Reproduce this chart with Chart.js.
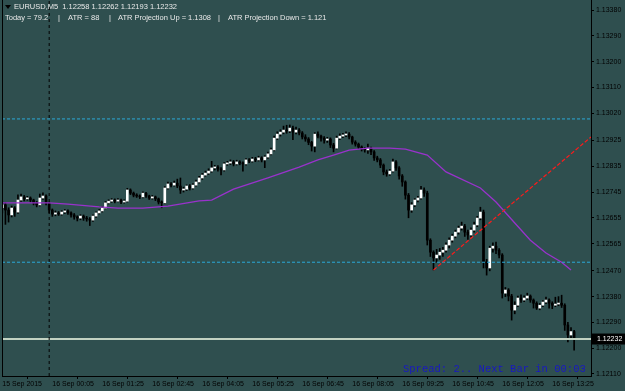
<!DOCTYPE html>
<html>
<head>
<meta charset="utf-8">
<script src="https://cdn.jsdelivr.net/npm/chart.js@4.4.0/dist/chart.umd.min.js"></script>
<style>
    html, body { margin: 0; padding: 0; background: #2f4f4f; }
    #grafico { display: block; background: #2f4f4f; }
</style>
</head>
<body>
<canvas id="grafico" width="625" height="391"></canvas>
<script>
// Velas M5 EURUSD (una por barra, de izquierda a derecha)
const aperturas = [1.12690,1.12700,1.12682,1.12665,1.12689,1.12675,1.12717,1.12728,1.12721,1.12724,
    1.12717,1.12707,1.12700,1.12724,1.12731,1.12707,1.12682,1.12668,1.12672,1.12668,
    1.12675,1.12679,1.12672,1.12665,1.12658,1.12654,1.12661,1.12654,1.12651,1.12647,
    1.12661,1.12672,1.12679,1.12689,1.12707,1.12713,1.12717,1.12713,1.12717,1.12710,
    1.12713,1.12752,1.12741,1.12734,1.12731,1.12728,1.12741,1.12731,1.12724,1.12728,
    1.12721,1.12710,1.12707,1.12759,1.12773,1.12769,1.12776,1.12766,1.12752,1.12755,
    1.12766,1.12759,1.12769,1.12780,1.12794,1.12804,1.12811,1.12818,1.12829,1.12832,
    1.12825,1.12822,1.12843,1.12846,1.12850,1.12843,1.12850,1.12846,1.12843,1.12857,
    1.12853,1.12860,1.12857,1.12864,1.12857,1.12867,1.12878,1.12892,1.12933,1.12947,
    1.12954,1.12961,1.12958,1.12968,1.12954,1.12961,1.12951,1.12937,1.12930,1.12918,
    1.12905,1.12947,1.12940,1.12933,1.12926,1.12930,1.12909,1.12898,1.12933,1.12940,
    1.12944,1.12947,1.12937,1.12919,1.12912,1.12902,1.12895,1.12892,1.12898,1.12885,
    1.12864,1.12857,1.12839,1.12815,1.12808,1.12818,1.12850,1.12829,1.12801,1.12780,
    1.12734,1.12682,1.12700,1.12717,1.12724,1.12752,1.12741,1.12577,1.12535,1.12515,
    1.12525,1.12535,1.12542,1.12560,1.12577,1.12591,1.12605,1.12619,1.12626,1.12605,
    1.12595,1.12612,1.12630,1.12654,1.12675,1.12501,1.12480,1.12549,1.12556,1.12542,
    1.12525,1.12392,1.12403,1.12382,1.12333,1.12350,1.12375,1.12368,1.12375,1.12382,
    1.12368,1.12357,1.12340,1.12350,1.12361,1.12368,1.12357,1.12350,1.12354,1.12357,
    1.12350,1.12281,1.12246,1.12258];
const maximos = [1.12712,1.12708,1.12690,1.12696,1.12694,1.12735,1.12738,1.12733,1.12730,1.12728,
    1.12720,1.12712,1.12738,1.12742,1.12735,1.12710,1.12686,1.12679,1.12677,1.12680,
    1.12684,1.12683,1.12676,1.12670,1.12662,1.12666,1.12665,1.12660,1.12656,1.12665,
    1.12676,1.12684,1.12694,1.12712,1.12718,1.12722,1.12721,1.12722,1.12720,1.12718,
    1.12758,1.12756,1.12745,1.12739,1.12735,1.12746,1.12744,1.12734,1.12733,1.12731,
    1.12724,1.12714,1.12764,1.12780,1.12778,1.12783,1.12790,1.12794,1.12762,1.12770,
    1.12771,1.12774,1.12787,1.12800,1.12810,1.12818,1.12826,1.12852,1.12838,1.12837,
    1.12830,1.12848,1.12852,1.12857,1.12855,1.12856,1.12854,1.12850,1.12862,1.12862,
    1.12866,1.12866,1.12870,1.12868,1.12872,1.12884,1.12898,1.12940,1.12955,1.12962,
    1.12975,1.12978,1.12979,1.12975,1.12972,1.12966,1.12956,1.12945,1.12935,1.12922,
    1.12952,1.12955,1.12944,1.12938,1.12936,1.12934,1.12915,1.12940,1.12948,1.12950,
    1.12955,1.12952,1.12940,1.12924,1.12916,1.12906,1.12900,1.12912,1.12902,1.12890,
    1.12870,1.12862,1.12843,1.12822,1.12824,1.12860,1.12855,1.12834,1.12806,1.12784,
    1.12740,1.12708,1.12722,1.12730,1.12765,1.12760,1.12748,1.12582,1.12540,1.12545,
    1.12548,1.12552,1.12568,1.12585,1.12598,1.12612,1.12626,1.12640,1.12632,1.12612,
    1.12620,1.12640,1.12660,1.12692,1.12682,1.12510,1.12556,1.12568,1.12570,1.12548,
    1.12530,1.12412,1.12408,1.12388,1.12362,1.12382,1.12386,1.12383,1.12392,1.12386,
    1.12372,1.12362,1.12356,1.12366,1.12378,1.12372,1.12362,1.12378,1.12380,1.12385,
    1.12355,1.12290,1.12272,1.12262];
const minimos = [1.12672,1.12632,1.12640,1.12658,1.12660,1.12670,1.12712,1.12714,1.12716,1.12710,
    1.12700,1.12693,1.12696,1.12719,1.12700,1.12672,1.12660,1.12662,1.12663,1.12664,
    1.12670,1.12667,1.12657,1.12650,1.12644,1.12648,1.12646,1.12643,1.12628,1.12642,
    1.12656,1.12668,1.12675,1.12686,1.12703,1.12709,1.12707,1.12710,1.12704,1.12706,
    1.12710,1.12736,1.12728,1.12726,1.12722,1.12724,1.12726,1.12719,1.12720,1.12715,
    1.12703,1.12690,1.12704,1.12755,1.12763,1.12765,1.12760,1.12740,1.12745,1.12750,
    1.12752,1.12755,1.12765,1.12776,1.12789,1.12800,1.12806,1.12814,1.12822,1.12818,
    1.12805,1.12818,1.12838,1.12841,1.12836,1.12839,1.12840,1.12818,1.12839,1.12847,
    1.12849,1.12851,1.12853,1.12850,1.12830,1.12862,1.12874,1.12888,1.12928,1.12940,
    1.12948,1.12950,1.12952,1.12928,1.12948,1.12944,1.12930,1.12922,1.12910,1.12888,
    1.12885,1.12934,1.12922,1.12915,1.12918,1.12900,1.12885,1.12895,1.12928,1.12935,
    1.12938,1.12930,1.12912,1.12905,1.12896,1.12888,1.12884,1.12880,1.12875,1.12855,
    1.12850,1.12830,1.12805,1.12800,1.12803,1.12814,1.12820,1.12790,1.12765,1.12720,
    1.12655,1.12674,1.12694,1.12710,1.12720,1.12730,1.12560,1.12520,1.12473,1.12500,
    1.12510,1.12520,1.12535,1.12550,1.12570,1.12585,1.12598,1.12612,1.12590,1.12580,
    1.12588,1.12605,1.12624,1.12648,1.12480,1.12455,1.12470,1.12535,1.12530,1.12515,
    1.12375,1.12380,1.12365,1.12298,1.12320,1.12345,1.12360,1.12362,1.12370,1.12360,
    1.12340,1.12335,1.12334,1.12345,1.12355,1.12340,1.12338,1.12345,1.12348,1.12342,
    1.12262,1.12222,1.12230,1.12193];
const cierres = [1.12700,1.12682,1.12665,1.12689,1.12675,1.12717,1.12728,1.12721,1.12724,1.12717,
    1.12707,1.12700,1.12724,1.12731,1.12707,1.12682,1.12668,1.12672,1.12668,1.12675,
    1.12679,1.12672,1.12665,1.12658,1.12654,1.12661,1.12654,1.12651,1.12647,1.12661,
    1.12672,1.12679,1.12689,1.12707,1.12713,1.12717,1.12713,1.12717,1.12710,1.12713,
    1.12752,1.12741,1.12734,1.12731,1.12728,1.12741,1.12731,1.12724,1.12728,1.12721,
    1.12710,1.12707,1.12759,1.12773,1.12769,1.12776,1.12766,1.12752,1.12755,1.12766,
    1.12759,1.12769,1.12780,1.12794,1.12804,1.12811,1.12818,1.12829,1.12832,1.12825,
    1.12822,1.12843,1.12846,1.12850,1.12843,1.12850,1.12846,1.12843,1.12857,1.12853,
    1.12860,1.12857,1.12864,1.12857,1.12867,1.12878,1.12892,1.12933,1.12947,1.12954,
    1.12961,1.12958,1.12968,1.12954,1.12961,1.12951,1.12937,1.12930,1.12918,1.12905,
    1.12947,1.12940,1.12933,1.12926,1.12930,1.12909,1.12898,1.12933,1.12940,1.12944,
    1.12947,1.12937,1.12919,1.12912,1.12902,1.12895,1.12892,1.12898,1.12885,1.12864,
    1.12857,1.12839,1.12815,1.12808,1.12818,1.12850,1.12829,1.12801,1.12780,1.12734,
    1.12682,1.12700,1.12717,1.12724,1.12752,1.12741,1.12577,1.12535,1.12515,1.12525,
    1.12535,1.12542,1.12560,1.12577,1.12591,1.12605,1.12619,1.12626,1.12605,1.12595,
    1.12612,1.12630,1.12654,1.12675,1.12501,1.12480,1.12549,1.12556,1.12542,1.12525,
    1.12392,1.12403,1.12382,1.12333,1.12350,1.12375,1.12368,1.12375,1.12382,1.12368,
    1.12357,1.12340,1.12350,1.12361,1.12368,1.12357,1.12350,1.12354,1.12357,1.12350,
    1.12281,1.12246,1.12258,1.12232];

// Media movil (barra, valor)
const mediaBarras = [0, 15, 21, 31, 37, 45, 53, 63, 67, 74, 85, 95, 101, 106, 111, 117, 124, 129, 136, 142, 153, 158, 164, 169, 174, 179, 182];
const mediaValores = [1.12707, 1.12707, 1.12703, 1.12693, 1.12689, 1.12689, 1.12696, 1.12714, 1.12717, 1.12755, 1.12794, 1.12832, 1.12857, 1.12874, 1.12891, 1.12898, 1.12898, 1.12895, 1.12874, 1.12815, 1.12759, 1.12710, 1.12637, 1.12577, 1.12532, 1.12500, 1.12473];

// Niveles y linea de tendencia
const nivelesATR = [1.13000, 1.12500];
const tendenciaBarras = [138, 188.4];
const tendenciaValores = [1.12473, 1.12937];
const separadorDia = 15;

// Ejes
const etiquetasTiempo = ['15 Sep 2015', '16 Sep 00:05', '16 Sep 01:25', '16 Sep 02:45', '16 Sep 04:05', '16 Sep 05:25',
    '16 Sep 06:45', '16 Sep 08:05', '16 Sep 09:25', '16 Sep 10:45', '16 Sep 12:05', '16 Sep 13:25'];
const barrasTiempo = [0, 16, 32, 48, 64, 80, 96, 112, 128, 144, 160, 176];
const preciosEje = [1.13380, 1.13290, 1.13200, 1.13110, 1.13020, 1.12925, 1.12835, 1.12745, 1.12655, 1.12565,
    1.12470, 1.12380, 1.12290, 1.12200, 1.12110];

const X_MIN = -0.1, X_MAX = 188.4;
const Y_MIN = 1.12103, Y_MAX = 1.13415;

function generarGrafico() {
    const indices = cierres.map((c, i) => i);
    const ultimo = cierres[cierres.length - 1];

    const mechas = indices.map(i => ({ x: i, y: [minimos[i], maximos[i]] }));
    const cuerpos = indices.map(i => ({ x: i, y: [aperturas[i], cierres[i]] }));
    const coloresCuerpo = indices.map(i => cierres[i] >= aperturas[i] ? '#ffffff' : '#000000');

    const lineaHorizontal = (valor) => [{ x: X_MIN, y: valor }, { x: X_MAX, y: valor }];

    const datasets = [
        { type: 'bar', data: mechas, backgroundColor: '#000000', barThickness: 1, grouped: false, order: 5 },
        { type: 'bar', data: cuerpos, backgroundColor: coloresCuerpo, borderWidth: 0,
          barThickness: 2, minBarLength: 1, grouped: false, order: 4 },
        { type: 'line', data: mediaBarras.map((b, i) => ({ x: b, y: mediaValores[i] })),
          borderColor: '#9932cc', borderWidth: 1.3, pointRadius: 0, order: 3 },
        { type: 'line', data: lineaHorizontal(nivelesATR[0]), borderColor: '#2aa8d8', borderWidth: 1,
          borderDash: [3, 2], pointRadius: 0, order: 2 },
        { type: 'line', data: lineaHorizontal(nivelesATR[1]), borderColor: '#2aa8d8', borderWidth: 1,
          borderDash: [3, 2], pointRadius: 0, order: 2 },
        { type: 'line', data: lineaHorizontal(ultimo), borderColor: '#c2d2c2', borderWidth: 2, pointRadius: 0, order: 2 },
        { type: 'line', data: tendenciaBarras.map((b, i) => ({ x: b, y: tendenciaValores[i] })),
          borderColor: '#ff1a1a', borderWidth: 1.2, borderDash: [4, 2], pointRadius: 0, order: 1 },
        { type: 'line', data: [{ x: separadorDia, y: Y_MIN }, { x: separadorDia, y: Y_MAX }],
          borderColor: '#000000', borderWidth: 1, borderDash: [3, 3], pointRadius: 0, order: 1 }
    ];

    // textos del terminal encima del grafico
    const textos = {
        id: 'textos',
        afterDraw(chart) {
            const ctx = chart.ctx;
            const area = chart.chartArea;
            const escalaY = chart.scales.y;
            ctx.save();

            // borde izquierdo
            ctx.strokeStyle = '#000000';
            ctx.lineWidth = 1;
            ctx.beginPath();
            ctx.moveTo(area.left + 0.5, area.top);
            ctx.lineTo(area.left + 0.5, area.bottom);
            ctx.stroke();

            ctx.fillStyle = '#000000';
            ctx.beginPath();
            ctx.moveTo(5, 5); ctx.lineTo(11, 5); ctx.lineTo(8, 9);
            ctx.fill();

            ctx.font = '7.5px "Liberation Sans"';
            ctx.textBaseline = 'middle';
            ctx.fillStyle = '#e8e8e8';
            ctx.fillText('EURUSD,M5  ' + [aperturas, maximos, minimos, cierres].map(a => a[a.length - 1].toFixed(5)).join(' '), 14, 7);
            ctx.fillText('Today = 79.2', 5, 18);
            ctx.fillText('|', 58, 18);
            ctx.fillText('ATR = 88', 68, 18);
            ctx.fillText('|', 109, 18);
            ctx.fillText('ATR Projection Up = 1.1308', 118, 18);
            ctx.fillText('|', 218, 18);
            ctx.fillText('ATR Projection Down = 1.121', 228, 18);

            ctx.font = '10.5px "Liberation Mono"';
            ctx.fillStyle = '#1818c0';
            ctx.fillText('Spread: 2.. Next Bar in 00:03', 403, 369);

            // etiqueta del precio actual
            const yp = escalaY.getPixelForValue(ultimo);
            ctx.fillStyle = '#000000';
            ctx.fillRect(area.right + 1, yp - 5.5, 34, 11);
            ctx.fillStyle = '#ffffff';
            ctx.font = '7px "Liberation Sans"';
            ctx.fillText(ultimo.toFixed(5), area.right + 6, yp);
            ctx.restore();
        }
    };

    const config = {
        type: 'bar',
        data: { datasets: datasets },
        options: {
            responsive: false,
            animation: false,
            devicePixelRatio: 1,
            layout: { padding: { left: 2, top: 0, right: 0, bottom: 0 } },
            plugins: { legend: { display: false }, tooltip: { enabled: false } },
            scales: {
                x: {
                    type: 'linear',
                    min: X_MIN,
                    max: X_MAX,
                    offset: false,
                    grid: { drawOnChartArea: false, color: '#000000', tickLength: 3 },
                    border: { color: '#000000' },
                    ticks: {
                        color: '#000000',
                        font: { family: 'Liberation Sans', size: 7 },
                        align: 'start',
                        padding: 1,
                        maxRotation: 0,
                        minRotation: 0,
                        autoSkip: false,
                        callback: (v, i) => etiquetasTiempo[i]
                    },
                    afterBuildTicks: (s) => { s.ticks = barrasTiempo.map(v => ({ value: v })); },
                    afterFit: (s) => { s.height = 15; s.paddingLeft = 0; s.paddingRight = 0; }
                },
                y: {
                    position: 'right',
                    min: Y_MIN,
                    max: Y_MAX,
                    grid: { drawOnChartArea: false, color: '#000000', tickLength: 3 },
                    border: { color: '#000000' },
                    ticks: {
                        color: '#000000',
                        font: { family: 'Liberation Sans', size: 7 },
                        padding: 2,
                        callback: (v) => v.toFixed(5)
                    },
                    afterBuildTicks: (s) => { s.ticks = preciosEje.map(v => ({ value: v })); },
                    afterFit: (s) => { s.width = 34; s.paddingTop = 0; s.paddingBottom = 0; }
                }
            }
        },
        plugins: [textos]
    };
    new Chart(document.getElementById('grafico'), config);
}

generarGrafico();
</script>
</body>
</html>
